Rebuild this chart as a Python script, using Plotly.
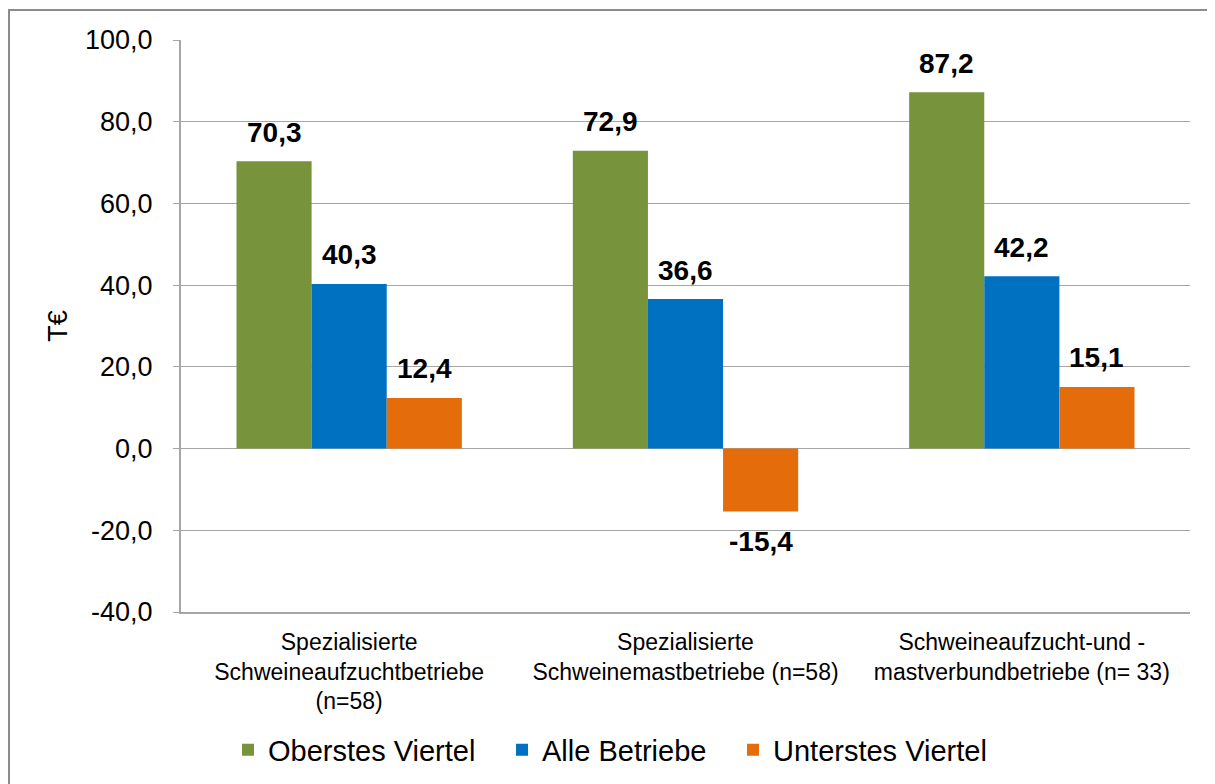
import plotly.graph_objects as go

categories = [
    "Spezialisierte<br>Schweineaufzuchtbetriebe<br>(n=58)",
    "Spezialisierte<br>Schweinemastbetriebe (n=58)",
    "Schweineaufzucht-und -<br>mastverbundbetriebe (n= 33)",
]
series_names = ["Oberstes Viertel", "Alle Betriebe", "Unterstes Viertel"]
oberstes = [70.3, 72.9, 87.2]
alle = [40.3, 36.6, 42.2]
unterstes = [12.4, -15.4, 15.1]
colors = ["#77933C", "#0070C0", "#E46C0A"]
y_ticks = [-40, -20, 0, 20, 40, 60, 80, 100]
y_tick_labels = ["-40,0", "-20,0", "0,0", "20,0", "40,0", "60,0", "80,0", "100,0"]

FONT = "Liberation Sans, Arial, sans-serif"
GRID = "#a6a6a6"

# page body has an 8px margin; figure is laid out in its own pixel frame
W, H = 1207, 776
L, R, T, B = 173, 25, 32, 172
pw = W - L - R
ph = H - T - B

def px_x(p):
    return (p - L) / pw

def px_y(p):
    return (H - B - p) / ph

legend_ids = ["legend", "legend2", "legend3"]
legend_left = [220, 494, 725]

fig = go.Figure()
series = [oberstes, alle, unterstes]
for name, vals, col, lid in zip(series_names, series, colors, legend_ids):
    fig.add_trace(go.Bar(
        name=name, x=categories, y=vals, legend=lid,
        marker=dict(color=col, line=dict(width=0)),
    ))

# value labels
bar_px = pw / 3 * (1 - 0.33) / 3
for i, vals in enumerate(series):
    shift = (i - 1) * bar_px
    for c, v in zip(categories, vals):
        fig.add_annotation(
            x=c, y=v, xref="x", yref="y",
            text=f"{v:.1f}".replace(".", ","),
            showarrow=False, xshift=shift,
            yshift=29 if v >= 0 else -30,
            yanchor="middle",
            font=dict(family=FONT, size=28, color="#000000", weight="bold"),
        )

# outer border (left and top edges visible)
fig.add_shape(type="line", xref="paper", yref="paper",
              x0=px_x(1), x1=px_x(1), y0=px_y(2), y1=px_y(800),
              line=dict(color="#8c8c8c", width=2))
fig.add_shape(type="line", xref="paper", yref="paper",
              x0=px_x(0), x1=px_x(1230), y0=px_y(2), y1=px_y(2),
              line=dict(color="#8c8c8c", width=2))

legend_common = dict(orientation="h", xref="container", xanchor="left",
                     yref="container", y=(H - 742) / H, yanchor="middle",
                     font=dict(family=FONT, size=29),
                     bgcolor="rgba(0,0,0,0)", borderwidth=0)

fig.update_layout(
    width=W, height=H,
    margin=dict(l=L, r=R, t=T, b=B, autoexpand=False),
    paper_bgcolor="white", plot_bgcolor="white",
    barmode="group", bargap=0.33, bargroupgap=0,
    separators=",.",
    font=dict(family=FONT, size=26, color="#000000"),
    showlegend=True,
    legend=dict(x=legend_left[0] / W, **legend_common),
    legend2=dict(x=legend_left[1] / W, **legend_common),
    legend3=dict(x=legend_left[2] / W, **legend_common),
)
fig.update_yaxes(
    range=[-40, 100], tickvals=y_ticks, ticktext=y_tick_labels,
    showgrid=True, gridcolor=GRID, gridwidth=1,
    zeroline=True, zerolinecolor=GRID, zerolinewidth=1,
    showline=True, linecolor=GRID, linewidth=2,
    ticks="outside", ticklen=6, tickcolor=GRID, ticklabelstandoff=15,
    tickfont=dict(family=FONT, size=27),
    title=dict(text="T€", font=dict(family=FONT, size=27), standoff=10),
    automargin=False,
)
fig.update_xaxes(
    showline=True, linecolor=GRID, linewidth=2,
    showgrid=False, ticks="", ticklabelstandoff=8,
    tickfont=dict(family=FONT, size=23),
    automargin=False,
)

fig.write_html("out.html")
